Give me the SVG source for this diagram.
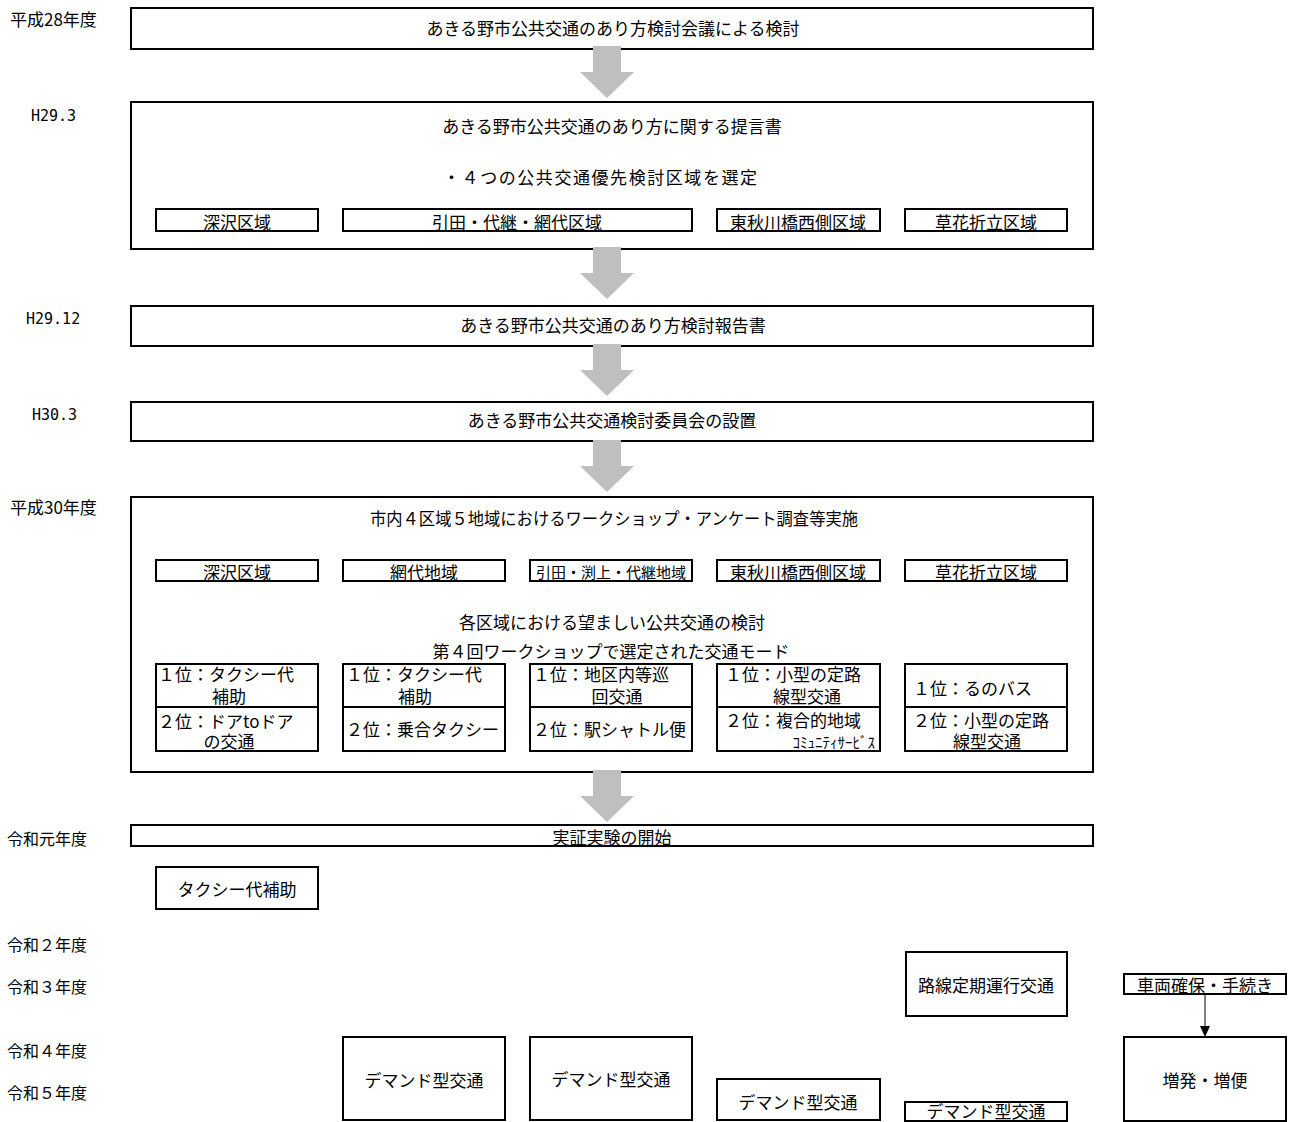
<svg xmlns="http://www.w3.org/2000/svg" width="1292" height="1122" viewBox="0 0 1292 1122">
<style>
.box{fill:#fff;stroke:#000;stroke-width:2}
.ln{stroke:#000;stroke-width:2}
text{font-family:"Noto Sans CJK JP","Noto Sans CJK SC",sans-serif;font-size:17px;fill:#000}
.c{text-anchor:middle}
.e{text-anchor:end}
.s{font-size:15px}
.r{font-size:16px}
.m{font-family:"DejaVu Sans Mono","Liberation Mono",monospace;font-size:15px}
.arr{fill:#bfbfbf}
</style>
<defs>
<path id="ga" d="M593,0 H621 V26 H634 L607,52 L580,26 H593 Z"/>
</defs>
<rect width="1292" height="1122" fill="#fff"/>
<g id="labels">
<text x="10" y="26">平成28年度</text>
<text class="m" x="31" y="121">H29.3</text>
<text class="m" x="26" y="324">H29.12</text>
<text class="m" x="32" y="420">H30.3</text>
<text x="10" y="514">平成30年度</text>
<text class="r" x="7" y="845">令和元年度</text>
<text class="r" x="7" y="951">令和２年度</text>
<text class="r" x="7" y="993">令和３年度</text>
<text class="r" x="7" y="1057">令和４年度</text>
<text class="r" x="7" y="1099">令和５年度</text>
</g>
<g id="n1"><rect class="box" x="131" y="8" width="962" height="41"/><text class="c" x="613" y="35">あきる野市公共交通のあり方検討会議による検討</text></g>
<g id="n2"><rect class="box" x="131" y="102" width="962" height="147"/>
<text class="c" x="612" y="133">あきる野市公共交通のあり方に関する提言書</text>
<text class="c" x="600" y="184" textLength="314" lengthAdjust="spacing">・４つの公共交通優先検討区域を選定</text>
<g id="n2a"><rect class="box" x="156" y="209" width="162" height="22"/><text class="c" x="237" y="229">深沢区域</text></g>
<g id="n2b"><rect class="box" x="343" y="209" width="349" height="22"/><text class="c" x="517" y="229">引田・代継・網代区域</text></g>
<g id="n2c"><rect class="box" x="717" y="209" width="163" height="22"/><text class="c" x="798" y="229">東秋川橋西側区域</text></g>
<g id="n2d"><rect class="box" x="905" y="209" width="162" height="22"/><text class="c" x="986" y="229">草花折立区域</text></g>
</g>
<g id="n3"><rect class="box" x="131" y="306" width="962" height="40"/><text class="c" x="613" y="332">あきる野市公共交通のあり方検討報告書</text></g>
<g id="n4"><rect class="box" x="131" y="402" width="962" height="39"/><text class="c" x="612" y="427">あきる野市公共交通検討委員会の設置</text></g>
<g id="n5"><rect class="box" x="131" y="497" width="962" height="275"/>
<text class="c" x="614" y="525" textLength="488" lengthAdjust="spacingAndGlyphs">市内４区域５地域におけるワークショップ・アンケート調査等実施</text>
<g id="n5a"><rect class="box" x="156" y="560" width="162" height="21"/><text class="c" x="237" y="579">深沢区域</text></g>
<g id="n5b"><rect class="box" x="343" y="560" width="162" height="21"/><text class="c" x="424" y="579">網代地域</text></g>
<g id="n5c"><rect class="box" x="530" y="560" width="162" height="21"/><text class="c s" x="611" y="578">引田・渕上・代継地域</text></g>
<g id="n5d"><rect class="box" x="717" y="560" width="163" height="21"/><text class="c" x="798" y="579">東秋川橋西側区域</text></g>
<g id="n5e"><rect class="box" x="905" y="560" width="162" height="21"/><text class="c" x="986" y="579">草花折立区域</text></g>
<text class="c" x="612" y="629">各区域における望ましい公共交通の検討</text>
<text class="c" x="611" y="658">第４回ワークショップで選定された交通モード</text>
<g id="m1"><rect class="box" x="156" y="664" width="162" height="87"/><line class="ln" x1="156" y1="707" x2="318" y2="707"/>
<text x="158" y="681">１位：タクシー代</text><text class="c" x="229" y="703">補助</text>
<text x="158" y="728">２位：ドアtoドア</text><text class="c" x="229" y="748">の交通</text></g>
<g id="m2"><rect class="box" x="343" y="664" width="162" height="87"/><line class="ln" x1="343" y1="707" x2="505" y2="707"/>
<text x="346" y="681">１位：タクシー代</text><text class="c" x="415" y="703">補助</text>
<text x="346" y="736">２位：乗合タクシー</text></g>
<g id="m3"><rect class="box" x="530" y="664" width="162" height="87"/><line class="ln" x1="530" y1="707" x2="692" y2="707"/>
<text x="533" y="681">１位：地区内等巡</text><text class="c" x="617" y="703">回交通</text>
<text x="533" y="736">２位：駅シャトル便</text></g>
<g id="m4"><rect class="box" x="717" y="664" width="163" height="87"/><line class="ln" x1="717" y1="707" x2="880" y2="707"/>
<text x="725" y="681">１位：小型の定路</text><text class="c" x="807" y="703">線型交通</text>
<text x="725" y="727">２位：複合的地域</text><text class="e s" x="875" y="748">ｺﾐｭﾆﾃｨｻｰﾋﾞｽ</text></g>
<g id="m5"><rect class="box" x="905" y="664" width="162" height="87"/><line class="ln" x1="905" y1="707" x2="1067" y2="707"/>
<text x="913" y="695">１位：るのバス</text>
<text x="913" y="727">２位：小型の定路</text><text class="c" x="987" y="748">線型交通</text></g>
</g>
<g id="n6"><rect class="box" x="131" y="825" width="962" height="21"/><text class="c" x="612" y="844">実証実験の開始</text></g>
<g id="n7"><rect class="box" x="156" y="867" width="162" height="42"/><text class="c" x="237" y="896">タクシー代補助</text></g>
<g id="n8"><rect class="box" x="906" y="952" width="161" height="64"/><text class="c" x="986" y="992">路線定期運行交通</text></g>
<g id="n9"><rect class="box" x="1124" y="974" width="162" height="20"/><text class="c" x="1205" y="992">車両確保・手続き</text></g>
<g id="n10"><rect class="box" x="1124" y="1037" width="162" height="84"/><text class="c" x="1205" y="1087">増発・増便</text></g>
<g id="n11"><rect class="box" x="343" y="1037" width="162" height="83"/><text class="c" x="424" y="1087">デマンド型交通</text></g>
<g id="n12"><rect class="box" x="530" y="1037" width="162" height="83"/><text class="c" x="611" y="1086">デマンド型交通</text></g>
<g id="n13"><rect class="box" x="717" y="1079" width="163" height="41"/><text class="c" x="798" y="1109">デマンド型交通</text></g>
<g id="n14"><rect class="box" x="905" y="1102" width="162" height="19"/><text class="c" x="986" y="1118">デマンド型交通</text></g>
<g id="connectors">
<use href="#ga" class="arr" y="46"/>
<use href="#ga" class="arr" y="247"/>
<use href="#ga" class="arr" y="344"/>
<use href="#ga" class="arr" y="440"/>
<use href="#ga" class="arr" y="770"/>
<line x1="1205" y1="994" x2="1205" y2="1027" stroke="#000" stroke-width="1"/>
<polygon points="1200,1026 1210,1026 1205,1037" fill="#000"/>
</g>
</svg>
